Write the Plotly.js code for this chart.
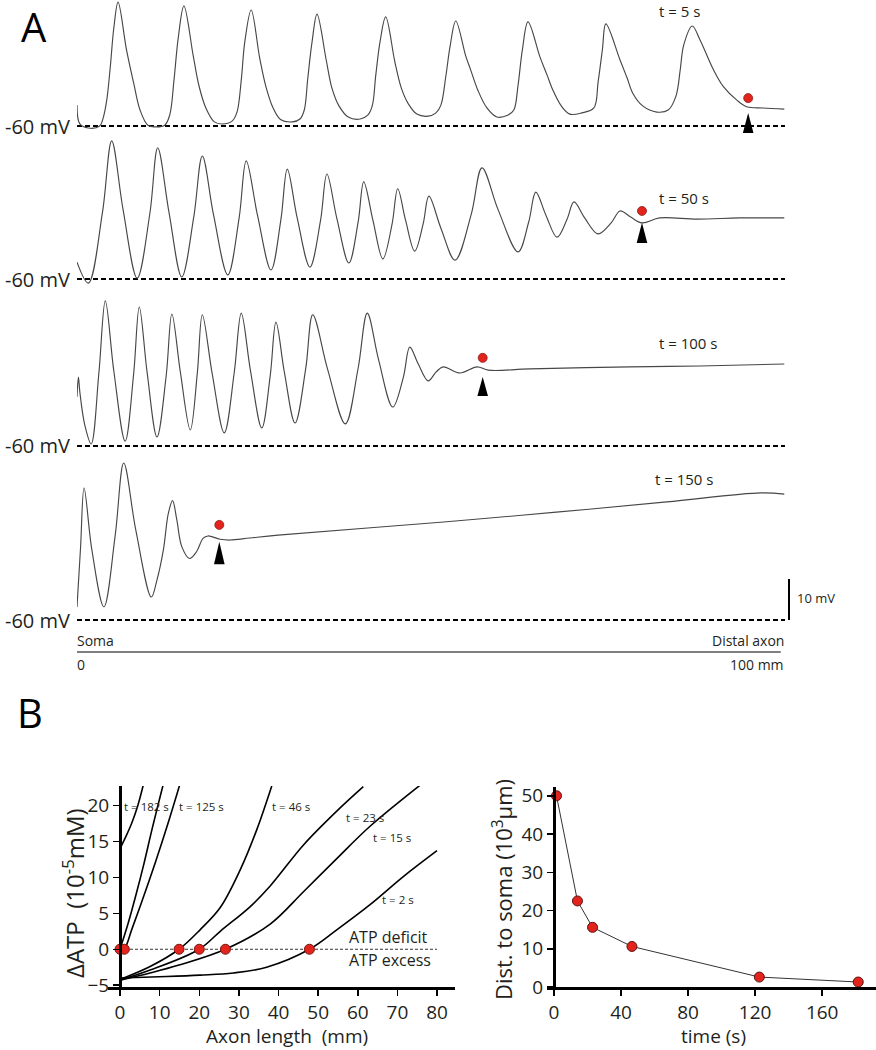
<!DOCTYPE html>
<html><head><meta charset="utf-8">
<script src="https://cdn.plot.ly/plotly-3.0.1.min.js"></script>
<style>html,body{margin:0;padding:0;background:#fff;}#chart{width:876px;height:1050px;}</style>
</head><body><div id="chart"></div>
<script>
// ---------------- DATA ----------------
// Panel A: membrane potential (mV) along the axon (mm) at four times
const traceLabels = ['t = 5 s', 't = 50 s', 't = 100 s', 't = 150 s'];
const trace5sX = [0, 0.4, 1.6, 3.2, 3.7, 4.2, 4.7, 5.2, 5.8, 7.0, 8.0, 8.9, 10.0, 11.0, 12.4,
 13.1, 13.7, 14.3, 15.1, 16.4, 17.2, 18.2, 19.4, 20.5, 21.9,
 22.6, 23.2, 23.7, 24.6, 25.8, 26.7, 27.7, 28.8, 30.4, 31.5,
 32.1, 32.6, 33.2, 33.9, 35.2, 36.0, 37.0, 38.3, 40.0, 41.1,
 41.7, 42.2, 42.8, 43.6, 44.9, 45.8, 46.8, 48.0, 49.6, 50.7,
 51.4, 52.1, 52.7, 53.5, 54.9, 55.6, 56.6, 57.9, 59.3, 60.9,
 61.7, 62.3, 62.9, 63.7, 65.4, 66.4, 67.2, 68.4, 69.6, 71.3,
 73.0, 73.6, 74.2, 74.7, 76.7, 77.7, 78.5, 79.9, 81.9, 83.5,
 84.6, 85.2, 85.7, 86.9, 88.0, 89.9, 91.3, 93.2, 94.6, 96.9, 99.9];
const trace5sV = [-54.9, -59.5, -60.5, -60, -58.0, -53.7, -45.6, -36.1, -29.8, -41.5, -49.5, -56.1, -59.8, -60.2, -59.8,
 -57.3, -48.8, -38.5, -30.7, -42.7, -50.0, -55.6, -59.0, -59.5, -58.8,
 -56.6, -48.8, -39.5, -31.7, -43.4, -50.5, -55.6, -58.5, -59.0, -58.3,
 -56.1, -48.3, -39.5, -32.7, -43.9, -50.7, -55.1, -57.8, -58.3, -57.3,
 -55.1, -47.6, -39.5, -33.4, -44.4, -50.7, -54.6, -57.1, -57.6, -56.8,
 -54.9, -47.8, -40.5, -34.4, -42.9, -46.3, -51.2, -55.6, -57.8, -57.3,
 -56.1, -50.0, -41.5, -34.6, -43.2, -47.6, -51.2, -55.1, -57.1, -56.8,
 -55.6, -49.3, -41.5, -35.1, -43.9, -48.3, -52.0, -55.1, -56.6, -56.1,
 -52.7, -46.3, -40.2, -35.6, -39.0, -46.3, -50.4, -53.7, -55.3, -55.6, -55.9];
const trace50sX = [0, 1.6, 3.6, 4.9, 6.5, 8.5, 10.3, 11.4, 13.0, 14.8, 16.5, 17.7, 19.3, 21.3, 22.9, 23.9,
 25.5, 27.4, 28.8, 29.7, 31.1, 32.9, 34.4, 35.3, 36.7, 38.4, 39.7, 40.5, 41.8, 43.2, 44.5, 45.3, 46.4,
 47.7, 48.9, 49.7, 51.4, 53.4, 55.7, 57.2, 59.5, 62.3, 63.8, 64.8, 66.2, 67.8, 69.2, 70.2, 71.7, 73.6,
 75.5, 76.7, 78.2, 79.8, 82.3, 87.6, 93.6, 99.9];
const trace50sV = [-55.9, -61.0, -43.7, -26.3, -43.0, -59.8, -43.9, -28.0, -43.8, -59.5, -44.8, -30.0, -44.5, -59.0,
 -45.1, -31.2, -44.5, -57.8, -45.5, -33.2, -45.1, -57.1, -45.7, -34.4, -45.2, -56.1, -46.2, -36.3, -45.7, -55.1,
 -46.6, -38.0, -45.6, -53.2, -46.5, -39.8, -47.6, -55.4, -44.1, -32.9, -43.2, -53.4, -46.1, -38.8, -44.3, -49.8,
 -45.5, -41.2, -45.1, -49.0, -46.2, -43.4, -44.9, -46.3, -45.1, -45.4, -45.1, -45.1];
const trace100sX = [0, 0.2, 0.4, 1.1, 2.0, 3.1, 4.0, 5.2, 6.8, 8.0, 8.8, 9.9, 11.3, 12.6, 13.4, 14.6, 16.0,
 17.0, 17.7, 19.1, 20.8, 22.2, 23.2, 24.5, 26.1, 27.3, 28.1, 29.3, 30.8, 32.3, 33.3, 35.4, 37.9, 39.7, 41.0,
 42.6, 44.6, 46.1, 47.0, 48.2, 49.6, 50.7, 51.7, 54.1, 56.5, 58.1, 64.0, 78.1, 88.0, 99.9];
const trace100sV = [-48.0, -43.2, -46.8, -54.9, -59.5, -42.0, -24.6, -41.7, -58.8, -42.4, -26.1, -42.0, -57.8,
 -42.8, -27.8, -42.0, -56.1, -42.1, -28.0, -42.4, -56.8, -42.2, -27.6, -41.6, -55.6, -42.7, -29.8, -42.1, -54.4,
 -41.2, -28.0, -41.3, -54.6, -41.1, -27.6, -39.0, -50.5, -43.2, -35.9, -40.0, -44.1, -42.0, -40.7, -42.2, -40.7,
 -41.5, -41.2, -40.7, -40.5, -40.0];
const trace150sX = [0, 0.5, 1.0, 2.1, 3.8, 5.4, 6.6, 8.3, 10.5, 11.3, 12.2, 12.9, 13.5, 14.1, 14.8, 15.9, 16.9,
 17.8, 18.5, 20.2, 21.6, 24.4, 28.4, 51.8, 67.7, 83.3, 96.6, 99.9];
const trace150sV = [-56.8, -42.4, -27.8, -42.9, -56.8, -39.3, -21.7, -38.0, -54.4, -50.2, -42.9, -34.0, -30.9,
 -35.6, -42.1, -45.0, -43.3, -40.1, -39.5, -40.3, -40.5, -40.0, -39.3, -36.1, -33.7, -31.2, -29.0, -29.3];
// conduction-failure point (red dot) and arrowhead (tip/base) on each trace
const failPointMm = [94.8, 79.8, 57.3, 20.1];
const failDotMv = [-53.2, -43.4, -38.5, -36.8];
const arrowTipMv = [-56.8, -46.3, -43.2, -40.9];
const arrowBaseMv = [-61.7, -51.2, -47.8, -46.4];
const restingMv = -60;
const restingLabel = '-60 mV';
const scaleBarMv = 10;
const axonLengthMm = 100;

// Panel B left: ΔATP (10^-5 mM) vs axon length (mm)
const atpCurveLabels = ['t = 182 s', 't = 125 s', 't = 46 s', 't = 23 s', 't = 15 s', 't = 2 s'];
const atp182X = [0, 1.5, 3, 4.5, 5.9];
const atp182Y = [14, 15.7, 17.6, 20, 22.9];
const atpBX = [0, 2, 4, 6, 8, 10.9];
const atpBY = [0, 3.5, 7.5, 11.8, 16.5, 22.9];
const atp125X = [0, 1.1, 3, 6, 9, 12, 15.2];
const atp125Y = [-0.4, 0, 2.8, 7.4, 12.2, 17.3, 23.1];
const atp46X = [0, 7.6, 14.9, 20.2, 25.3, 30.3, 34.5, 38.3];
const atp46Y = [-4.2, -2.4, 0, 2.7, 5.8, 11, 16.6, 22.7];
const atp23X = [0, 7.6, 20.0, 25.3, 32.8, 37.9, 46.3, 54.7, 61.4];
const atp23Y = [-4.3, -2.9, 0, 2.5, 5.9, 8.8, 14.5, 19.2, 22.6];
const atp15X = [0, 7.6, 14.9, 26.6, 37.9, 46.3, 54.7, 63.1, 75.7];
const atp15Y = [-4.3, -3.3, -2.2, 0, 3.5, 8.0, 12.6, 17.1, 22.8];
const atp2X = [0, 11.8, 20.2, 28.6, 37.0, 47.8, 54.7, 63.1, 71.5, 80];
const atp2Y = [-4.0, -3.8, -3.6, -3.3, -2.5, 0, 2.7, 6.2, 10.1, 13.7];
const atpZeroX = [0, 1.1, 14.9, 20.0, 26.6, 47.8];
const atpZeroY = [0, 0, 0, 0, 0, 0];
const atpXTicks = [0, 10, 20, 30, 40, 50, 60, 70, 80];
const atpYTicks = [-5, 0, 5, 10, 15, 20];

// Panel B right: distance of failure point to soma (10^3 µm) vs time (s)
const failTimeS = [1.5, 14, 23, 46.5, 122.5, 181.5];
const failDist = [50, 22.5, 15.6, 10.6, 2.6, 1.3];
const distXTicks = [0, 40, 80, 120, 160];
const distYTicks = [0, 10, 20, 30, 40, 50];

// ---------------- LAYOUT HELPERS ----------------
const W = 876, H = 1050;
const PX = x => x / W;
const PY = y => 1 - y / H;
const FONT = 'Open Sans, Liberation Sans, sans-serif';
const INK = '#231f20';
const RED = '#e3241d';
const K = 4.1; // px per mV in panel A
const baselinePx = [126, 279, 446, 620];
const yRanges = [[-62, -29.5], [-62, -25], [-62, -23], [-62, -20]];
const yNames = ['y', 'y2', 'y3', 'y4'];

const traceX = [trace5sX, trace50sX, trace100sX, trace150sX];
const traceV = [trace5sV, trace50sV, trace100sV, trace150sV];

const data = [];
const layout = {
  width: W, height: H, autosize: false,
  margin: {l: 0, r: 0, t: 0, b: 0},
  paper_bgcolor: '#fff', plot_bgcolor: 'rgba(0,0,0,0)',
  showlegend: false, hovermode: false,
  font: {family: FONT, color: INK},
  xaxis: {domain: [PX(77), PX(785)], range: [0, axonLengthMm], visible: false, anchor: 'y', fixedrange: true},
  annotations: [], shapes: []
};

for (let i = 0; i < 4; i++) {
  const b = baselinePx[i], r = yRanges[i];
  const bottom = b - (r[0] - restingMv) * K;
  const top = b - (r[1] - restingMv) * K;
  const key = i === 0 ? 'yaxis' : 'yaxis' + (i + 1);
  layout[key] = {domain: [PY(bottom), PY(top)], range: r, visible: false, anchor: 'x', fixedrange: true};
  data.push({x: [0, axonLengthMm], y: [restingMv, restingMv], xaxis: 'x', yaxis: yNames[i], mode: 'lines',
    line: {color: '#000', width: 2, dash: '5px,3px'}});
  data.push({x: traceX[i], y: traceV[i], xaxis: 'x', yaxis: yNames[i], mode: 'lines',
    line: {color: '#474747', width: 1.15, shape: 'spline', smoothing: 1}});
  data.push({x: [failPointMm[i]], y: [failDotMv[i]], xaxis: 'x', yaxis: yNames[i], mode: 'markers',
    marker: {color: RED, size: 9, line: {color: '#8a1a14', width: 0.8}}});
  const xm = failPointMm[i], hw = 0.75;
  layout.shapes.push({type: 'path', xref: 'x', yref: yNames[i],
    path: `M ${xm - hw},${arrowBaseMv[i]} L ${xm},${arrowTipMv[i]} L ${xm + hw},${arrowBaseMv[i]} Z`,
    fillcolor: '#000', line: {width: 0}});
  layout.annotations.push({text: restingLabel, xref: 'paper', yref: yNames[i],
    x: PX(72), y: restingMv, xanchor: 'right', yanchor: 'middle', showarrow: false,
    font: {size: 20, family: FONT, color: INK}});
}
const tLabelPos = [[657, 11], [657, 198], [657, 343], [653, 479]];
traceLabels.forEach((t, i) => layout.annotations.push({text: t, xref: 'paper', yref: 'paper',
  x: PX(tLabelPos[i][0]), y: PY(tLabelPos[i][1]), xanchor: 'left', yanchor: 'middle', showarrow: false,
  font: {size: 15, family: FONT, color: INK}}));

// scale bar 10 mV next to bottom trace
layout.shapes.push({type: 'line', xref: 'paper', yref: 'y4', x0: PX(789), x1: PX(789), y0: restingMv, y1: restingMv + scaleBarMv,
  line: {color: '#000', width: 2}});
layout.annotations.push({text: scaleBarMv + ' mV', xref: 'paper', yref: 'paper', x: PX(795), y: PY(598),
  xanchor: 'left', yanchor: 'middle', showarrow: false, font: {size: 13, family: FONT, color: INK}});
// distance scale below traces
layout.shapes.push({type: 'line', xref: 'x', yref: 'paper', x0: -0.7, x1: 99.4, y0: PY(652), y1: PY(652),
  line: {color: '#000', width: 1.2}});
const scaleTexts = [['Soma', 75, 640, 'left'], ['Distal axon', 786, 640, 'right'], ['0', 75, 664, 'left'], [axonLengthMm + ' mm', 786, 664, 'right']];
scaleTexts.forEach(s => layout.annotations.push({text: s[0], xref: 'paper', yref: 'paper', x: PX(s[1]), y: PY(s[2]),
  xanchor: s[3], yanchor: 'middle', showarrow: false, font: {size: 14, family: FONT, color: INK}}));

// panel letters
layout.annotations.push({text: 'A', xref: 'paper', yref: 'paper', x: PX(34), y: PY(27), xanchor: 'center', yanchor: 'middle',
  showarrow: false, font: {size: 40, family: FONT, color: '#000'}});
layout.annotations.push({text: 'B', xref: 'paper', yref: 'paper', x: PX(30), y: PY(712), xanchor: 'center', yanchor: 'middle',
  showarrow: false, font: {size: 40, family: FONT, color: '#000'}});

// ---------------- PANEL B LEFT ----------------
const axStyle = {showline: true, linecolor: '#000', linewidth: 3, ticks: 'outside', ticklen: 6, tickwidth: 1.5,
  tickcolor: '#000', showgrid: false, zeroline: false, fixedrange: true,
  tickfont: {size: 19, family: FONT, color: INK}};
layout.xaxis2 = Object.assign({}, axStyle, {domain: [PX(108), PX(455)], range: [-3.03, 84.54], anchor: 'y5',
  tickmode: 'array', tickvals: atpXTicks});
layout.yaxis5 = Object.assign({}, axStyle, {domain: [PY(987), PY(786)], range: [-5.25, 22.7], anchor: 'free',
  position: PX(120), tickmode: 'array', tickvals: atpYTicks});
data.push({x: [0, 80], y: [0, 0], xaxis: 'x2', yaxis: 'y5', mode: 'lines', line: {color: '#333', width: 1, dash: '3px,2px'}});
const atpCurves = [[atp182X, atp182Y], [atpBX, atpBY], [atp125X, atp125Y], [atp46X, atp46Y], [atp23X, atp23Y], [atp15X, atp15Y], [atp2X, atp2Y]];
atpCurves.forEach(c => data.push({x: c[0], y: c[1], xaxis: 'x2', yaxis: 'y5', mode: 'lines',
  line: {color: '#000', width: 1.6, shape: 'spline', smoothing: 1}}));
data.push({x: atpZeroX, y: atpZeroY, xaxis: 'x2', yaxis: 'y5', mode: 'markers',
  marker: {color: RED, size: 10, line: {color: '#7a1510', width: 1}}});
const atpLabelPos = [[146, 806], [201, 806], [291, 806], [365, 817], [392, 837], [398, 899]];
atpCurveLabels.forEach((t, i) => layout.annotations.push({text: t, xref: 'paper', yref: 'paper',
  x: PX(atpLabelPos[i][0]), y: PY(atpLabelPos[i][1]), xanchor: 'center', yanchor: 'middle', showarrow: false,
  font: {size: 11.5, family: FONT, color: INK}}));
layout.annotations.push({text: 'ATP deficit', xref: 'paper', yref: 'paper', x: PX(347), y: PY(937), xanchor: 'left',
  yanchor: 'middle', showarrow: false, font: {size: 16, family: FONT, color: INK}});
layout.annotations.push({text: 'ATP excess', xref: 'paper', yref: 'paper', x: PX(347), y: PY(960), xanchor: 'left',
  yanchor: 'middle', showarrow: false, font: {size: 16, family: FONT, color: INK}});
layout.annotations.push({text: 'ΔATP  (10<sup>-5</sup>mM)', xref: 'paper', yref: 'paper', x: PX(73), y: PY(893), textangle: -90,
  xanchor: 'center', yanchor: 'middle', showarrow: false, font: {size: 24, family: FONT, color: INK}});
layout.annotations.push({text: 'Axon length  (mm)', xref: 'paper', yref: 'paper', x: PX(287), y: PY(1036),
  xanchor: 'center', yanchor: 'middle', showarrow: false, font: {size: 19, family: FONT, color: INK}});

// ---------------- PANEL B RIGHT ----------------
layout.xaxis3 = Object.assign({}, axStyle, {domain: [PX(547), PX(875.5)], range: [-4.17, 191.8], anchor: 'y6',
  tickmode: 'array', tickvals: distXTicks});
layout.yaxis6 = Object.assign({}, axStyle, {domain: [PY(987), PY(787)], range: [0, 52.3], anchor: 'free',
  position: PX(554), tickmode: 'array', tickvals: distYTicks});
data.push({x: failTimeS, y: failDist, xaxis: 'x3', yaxis: 'y6', mode: 'lines+markers',
  line: {color: '#333', width: 1},
  marker: {color: RED, size: 10, line: {color: '#5a1410', width: 1}}});
layout.annotations.push({text: 'Dist. to soma (10<sup>3</sup>µm)', xref: 'paper', yref: 'paper', x: PX(502), y: PY(890), textangle: -90,
  xanchor: 'center', yanchor: 'middle', showarrow: false, font: {size: 22, family: FONT, color: INK}});
layout.annotations.push({text: 'time (s)', xref: 'paper', yref: 'paper', x: PX(713), y: PY(1036),
  xanchor: 'center', yanchor: 'middle', showarrow: false, font: {size: 19, family: FONT, color: INK}});

Plotly.newPlot('chart', data, layout, {staticPlot: true, displayModeBar: false});
</script>
</body></html>
